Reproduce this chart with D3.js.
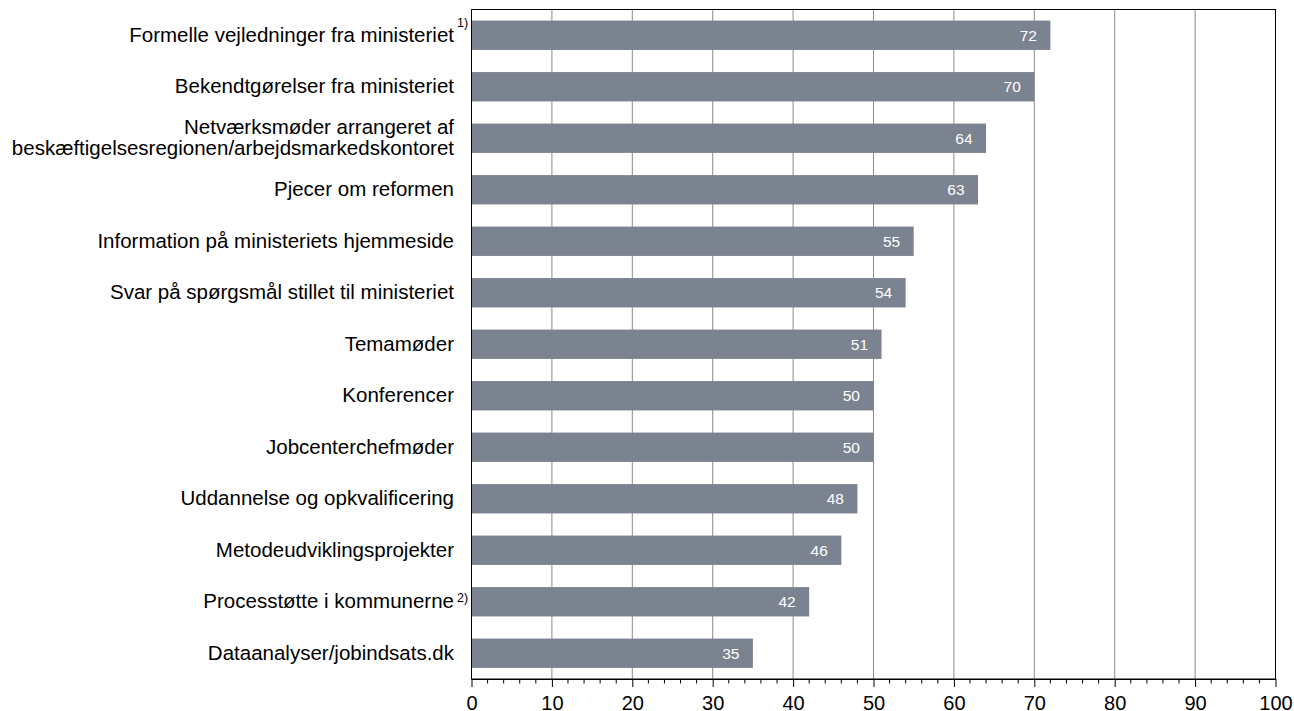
<!DOCTYPE html>
<meta charset="utf-8">
<style>
body { margin: 0; background: white; }
text { font-family: "Liberation Sans", Arial, sans-serif; }
</style>
<script src="https://d3js.org/d3.v7.min.js"></script>
<svg id="chart"></svg>
<script>
// data
var categories = [
  "Formelle vejledninger fra ministeriet",
  "Bekendtgørelser fra ministeriet",
  "Netværksmøder arrangeret af|beskæftigelsesregionen/arbejdsmarkedskontoret",
  "Pjecer om reformen",
  "Information på ministeriets hjemmeside",
  "Svar på spørgsmål stillet til ministeriet",
  "Temamøder",
  "Konferencer",
  "Jobcenterchefmøder",
  "Uddannelse og opkvalificering",
  "Metodeudviklingsprojekter",
  "Processtøtte i kommunerne",
  "Dataanalyser/jobindsats.dk"
];
var values = [72, 70, 64, 63, 55, 54, 51, 50, 50, 48, 46, 42, 35];
var footnotes = ["1)", "", "", "", "", "", "", "", "", "", "", "2)", ""];
var xTicks = [0, 10, 20, 30, 40, 50, 60, 70, 80, 90, 100];

var svg_width = 1294, svg_height = 711;
var margin = {top: 9.5, right: 18.5, bottom: 32, left: 471.5};
var svg = d3.select("#chart").attr("width", svg_width).attr("height", svg_height);
var label_size = 20.5, line_gap = 21;

var x = d3.scaleLinear().domain([0, 100]).range([margin.left, svg_width - margin.right]);
var y = d3.scaleBand().domain(categories)
  .range([margin.top, svg_height - margin.bottom])
  .paddingInner(0.43).paddingOuter(0.215);

var plot_top = margin.top, plot_bottom = svg_height - margin.bottom;

// grid lines
svg.append("g").selectAll("line")
  .data(xTicks.slice(1, -1))
  .enter().append("line")
    .attr("x1", d => x(d)).attr("x2", d => x(d))
    .attr("y1", plot_top).attr("y2", plot_bottom)
    .attr("stroke", "#8a8a8a").attr("stroke-width", 1);

// bars
svg.append("g").selectAll("rect")
  .data(values)
  .enter().append("rect")
    .attr("x", x(0))
    .attr("y", (d, i) => y(categories[i]))
    .attr("width", d => x(d) - x(0))
    .attr("height", y.bandwidth())
    .attr("fill", "#7b8390");

// value labels
svg.append("g").selectAll("text")
  .data(values)
  .enter().append("text")
    .attr("x", d => x(d) - 13.5)
    .attr("y", (d, i) => y(categories[i]) + y.bandwidth() / 2)
    .attr("dy", "0.36em")
    .attr("text-anchor", "end")
    .attr("fill", "white")
    .style("font-size", "15.5px")
    .text(d => d);

// category labels
var labels = svg.append("g").selectAll("text")
  .data(categories)
  .enter().append("text")
    .attr("x", 454)
    .attr("y", d => y(d) + y.bandwidth() / 2)
    .attr("text-anchor", "end")
    .style("font-size", label_size + "px")
    .attr("fill", "black");

labels.each(function(d, i) {
  var t = d3.select(this);
  var lines = d.split("|");
  if (lines.length > 1) {
    lines.forEach(function(l, j) {
      t.append("tspan").attr("x", 454)
        .attr("dy", j == 0 ? (0.32 * label_size - line_gap / 2) + "px" : line_gap + "px")
        .text(l);
    });
  } else {
    t.attr("dy", "0.32em").text(d);
  }
  if (footnotes[i]) {
    // superscript note, placed just after the label end
    var cy = y(d) + y.bandwidth() / 2 + 6.4;
    svg.append("text")
      .attr("x", 457)
      .attr("y", cy + (i == 0 ? -15 : -6))
      .style("font-size", "12.5px")
      .text(footnotes[i]);
  }
});

// frame
svg.append("rect")
  .attr("x", x(0)).attr("y", plot_top)
  .attr("width", x(100) - x(0)).attr("height", plot_bottom - plot_top)
  .attr("fill", "none").attr("stroke", "black").attr("stroke-width", 1);

// x axis
var axis = svg.append("g").attr("transform", "translate(0," + plot_bottom + ")")
  .call(d3.axisBottom(x).tickValues(xTicks).tickSize(8).tickPadding(9).tickSizeOuter(0));
axis.select(".domain").attr("stroke", "black");
axis.selectAll("text").style("font-size", "20px").attr("fill", "black").style("font-family", "'Liberation Sans', Arial, sans-serif");

// minor ticks every 2
svg.append("g").selectAll("line")
  .data(d3.range(2, 100, 2).filter(d => d % 10 != 0))
  .enter().append("line")
    .attr("x1", d => x(d)).attr("x2", d => x(d))
    .attr("y1", plot_bottom).attr("y2", plot_bottom + 4.5)
    .attr("stroke", "black");
</script>
